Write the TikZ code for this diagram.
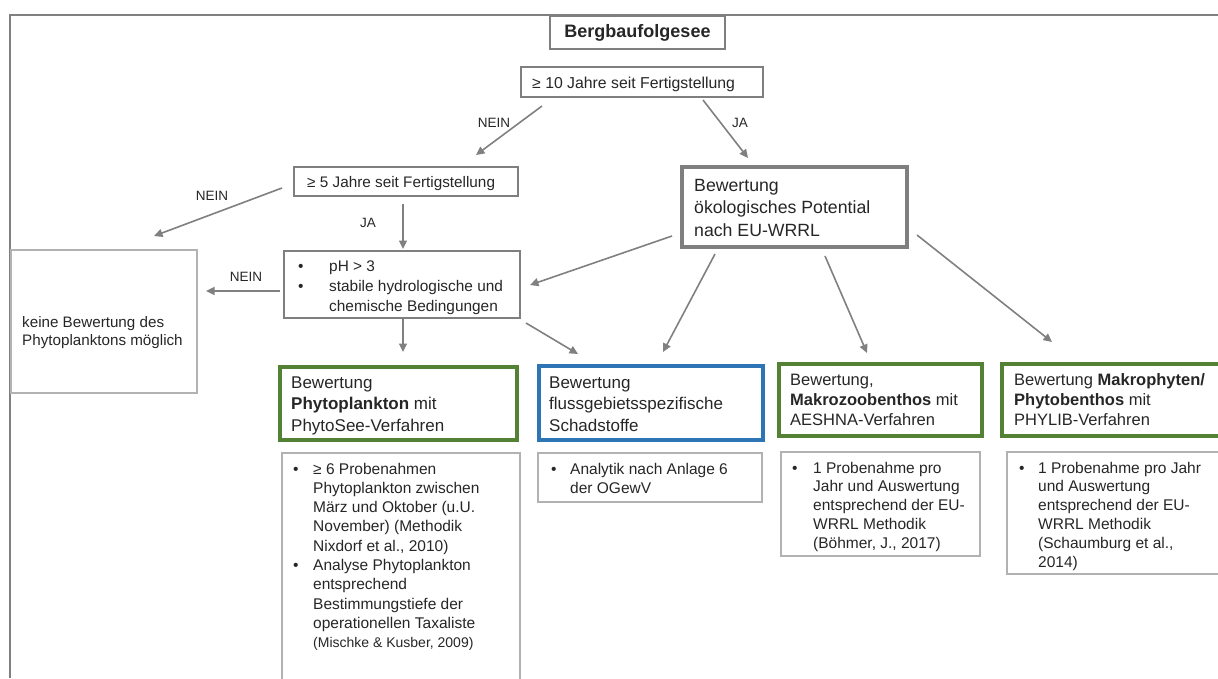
\documentclass[tikz,border=0pt]{standalone}
\usepackage{fontspec}
\setmainfont{Liberation Sans}
\usetikzlibrary{arrows.meta}
\definecolor{txt}{RGB}{38,38,38}
\definecolor{dk}{RGB}{127,127,127}
\definecolor{lt}{RGB}{178,178,178}
\definecolor{grn}{RGB}{84,130,53}
\definecolor{blu}{RGB}{46,117,182}
\definecolor{arrc}{RGB}{128,128,128}
\newcommand\mybul[1]{\makebox[#1][l]{•}}
\begin{document}
\begin{tikzpicture}[x=1pt,y=-1pt,
  bx/.style={rectangle, inner sep=0pt, outer sep=0pt, anchor=north west},
  thin/.style={bx, draw=dk, line width=1.3pt},
  light/.style={bx, draw=lt, line width=1.3pt},
  ecobox/.style={bx, draw=dk, line width=3.5pt},
  grnbox/.style={bx, draw=grn, line width=3.2pt},
  blubox/.style={bx, draw=blu, line width=3.2pt},
  tn/.style={anchor=base west, inner sep=0pt, text=txt},
  f15/.style={font=\fontsize{15.5}{19.3}\selectfont},
  f17/.style={font=\fontsize{17}{21.5}\selectfont},
  lbl/.style={inner sep=0pt, text=txt, font=\fontsize{13.5}{16}\selectfont},
  arr/.style={draw=arrc, line width=1.6pt, -{Triangle[length=8.5pt,width=8pt]}},
  frame/.style={draw=arrc, line width=1.5pt}
]
\useasboundingbox (0,0) rectangle (1218,678);
\clip (0,0) rectangle (1218,678);

% outer frame
\draw[frame] (10,678) -- (10,15) -- (1218,15);

% boxes
\node[thin, line width=1.5pt, fill=white, minimum width=175pt, minimum height=33pt, anchor=center,
  text=txt, font=\bfseries\fontsize{18}{20}\selectfont] (berg) at (637.5,32.5) {Bergbaufolgesee};
\node[thin, minimum width=242pt, minimum height=30pt] (ten) at (521,67) {};
\node[thin, minimum width=224pt, minimum height=29pt] (five) at (294,167) {};
\node[ecobox, minimum width=225pt, minimum height=80pt] (eco) at (682,167) {};
\node[light, minimum width=186pt, minimum height=143pt] (keine) at (11,250) {};
\node[thin, minimum width=236pt, minimum height=67pt] (ph) at (284,251) {};
\node[grnbox, minimum width=237pt, minimum height=73pt] (phyto) at (280,367) {};
\node[blubox, minimum width=224pt, minimum height=74pt] (schad) at (539,366) {};
\node[grnbox, minimum width=203pt, minimum height=72pt] (makroz) at (779,364) {};
\node[grnbox, minimum width=240pt, minimum height=72pt] (makroph) at (1002,364) {};
\node[light, minimum width=238pt, minimum height=250pt] (dphyto) at (282,453) {};
\node[light, minimum width=224pt, minimum height=49pt] (dschad) at (538,453) {};
\node[light, minimum width=199pt, minimum height=104pt] (dmakroz) at (781,452) {};
\node[light, minimum width=240pt, minimum height=122pt] (dmakroph) at (1007,452) {};

% texts
\node[tn, f15, font=\fontsize{15.8}{19}\selectfont] (tten) at (532,88) {≥ 10 Jahre seit Fertigstellung};
\node[tn, font=\fontsize{15.3}{19}\selectfont] (tfive) at (307,187.5) {≥ 5 Jahre seit Fertigstellung};
\node[tn, font=\fontsize{17.7}{22.5}\selectfont] (teco) at (694,191) {\begin{tabular}[t]{@{}l@{}}Bewertung\\ökologisches Potential\\nach EU-WRRL\end{tabular}};
\node[tn, font=\fontsize{15.2}{18}\selectfont] (tkeine) at (22,327) {\begin{tabular}[t]{@{}l@{}}keine Bewertung des\\Phytoplanktons möglich\end{tabular}};
\node[tn, font=\fontsize{15.4}{20}\selectfont] (tph) at (298,271) {\begin{tabular}[t]{@{}l@{}}\mybul{31pt}pH > 3\\\mybul{31pt}stabile hydrologische und\\\hspace*{31pt}chemische Bedingungen\end{tabular}};
\node[tn, f17] (tphyto) at (291,388) {\begin{tabular}[t]{@{}l@{}}Bewertung\\\textbf{Phytoplankton} mit\\PhytoSee-Verfahren\end{tabular}};
\node[tn, f17] (tschad) at (549,388) {\begin{tabular}[t]{@{}l@{}}Bewertung\\flussgebietsspezifische\\Schadstoffe\end{tabular}};
\node[tn, font=\fontsize{16.5}{20}\selectfont] (tmakroz) at (790,385) {\begin{tabular}[t]{@{}l@{}}Bewertung,\\\textbf{Makrozoobenthos} mit\\AESHNA-Verfahren\end{tabular}};
\node[tn, font=\fontsize{16.5}{20}\selectfont] (tmakroph) at (1014,385) {\begin{tabular}[t]{@{}l@{}}Bewertung \textbf{Makrophyten/}\\\textbf{Phytobenthos} mit\\PHYLIB-Verfahren\end{tabular}};

\node[tn, f15] (tdphyto) at (293,474) {\begin{tabular}[t]{@{}l@{}}\mybul{20pt}≥ 6 Probenahmen\\\hspace*{20pt}Phytoplankton zwischen\\\hspace*{20pt}März und Oktober (u.U.\\\hspace*{20pt}November) (Methodik\\\hspace*{20pt}Nixdorf et al., 2010)\\\mybul{20pt}Analyse Phytoplankton\\\hspace*{20pt}entsprechend\\\hspace*{20pt}Bestimmungstiefe der\\\hspace*{20pt}operationellen Taxaliste\\\hspace*{20pt}{\fontsize{14}{19.3}\selectfont(Mischke \& Kusber, 2009)}\end{tabular}};
\node[tn, f15] (tdschad) at (551,474) {\begin{tabular}[t]{@{}l@{}}\mybul{19pt}Analytik nach Anlage 6\\\hspace*{19pt}der OGewV\end{tabular}};
\node[tn, font=\fontsize{15.5}{18.8}\selectfont] (tdmakroz) at (792,473) {\begin{tabular}[t]{@{}l@{}}\mybul{21pt}1 Probenahme pro\\\hspace*{21pt}Jahr und Auswertung\\\hspace*{21pt}entsprechend der EU-\\\hspace*{21pt}WRRL Methodik\\\hspace*{21pt}(Böhmer, J., 2017)\end{tabular}};
\node[tn, font=\fontsize{15.5}{18.8}\selectfont] (tdmakroph) at (1019,473) {\begin{tabular}[t]{@{}l@{}}\mybul{19pt}1 Probenahme pro Jahr\\\hspace*{19pt}und Auswertung\\\hspace*{19pt}entsprechend der EU-\\\hspace*{19pt}WRRL Methodik\\\hspace*{19pt}(Schaumburg et al.,\\\hspace*{19pt}2014)\end{tabular}};

% connectors
\draw[arr] ([shift={(21,9)}]ten.south west) -- ([shift={(182,-12)}]five.north west);
\draw[arr] ([shift={(-60,3)}]ten.south east) -- ([shift={(66,-9)}]eco.north west);
\draw[arr] ([shift={(-12,21)}]five.north west) -- ([shift={(143,-14)}]keine.north west);
\draw[arr] ([shift={(109,8)}]five.south west) -- ([shift={(119,-2)}]ph.north west);
\draw[arr] ([shift={(-4,40)}]ph.north west) -- ([shift={(9,41)}]keine.north east);
\draw[arr] ([shift={(119,1)}]ph.south west) -- ([shift={(123,-15)}]phyto.north west);
\draw[arr] ([shift={(6,5)}]ph.south east) -- ([shift={(39,-12)}]schad.north west);
\draw[arr] ([shift={(-10,-11)}]eco.south west) -- ([shift={(10,34)}]ph.north east);
\draw[arr] ([shift={(33,7)}]eco.south west) -- ([shift={(124,-14)}]schad.north west);
\draw[arr] ([shift={(143,9)}]eco.south west) -- ([shift={(88,-11)}]makroz.north west);
\draw[arr] ([shift={(10,-12)}]eco.south east) -- ([shift={(50,-22)}]makroph.north west);

% labels
\node[lbl] (l1) at (494,123) {NEIN};
\node[lbl] (l2) at (740,123) {JA};
\node[lbl] (l3) at (212,196) {NEIN};
\node[lbl] (l4) at (368,223) {JA};
\node[lbl] (l5) at (246,277) {NEIN};
\end{tikzpicture}
\end{document}
